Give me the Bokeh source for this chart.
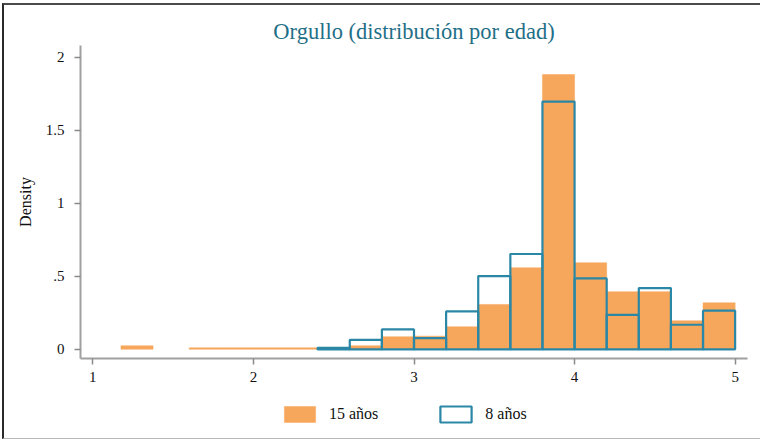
from bokeh.plotting import figure
from bokeh.layouts import column
from bokeh.models import (ColumnDataSource, Range1d, FixedTicker, Legend, LegendItem)
from bokeh.embed import file_html
from bokeh.resources import INLINE

# ---- data: histogram bins (left edge) and densities ----
bin_width = 0.2
age15_left = [1.175, 1.6, 1.8, 2.0, 2.2, 2.4, 2.6, 2.8, 3.0, 3.2, 3.4, 3.6, 3.8, 4.0, 4.2, 4.4, 4.6, 4.8]
age15_density = [0.024, 0.01, 0.01, 0.01, 0.01, 0.01, 0.024, 0.086, 0.09, 0.154, 0.307, 0.558, 1.88, 0.592, 0.394, 0.394, 0.195, 0.318]

age8_left = [2.4, 2.6, 2.8, 3.0, 3.2, 3.4, 3.6, 3.8, 4.0, 4.2, 4.4, 4.6, 4.8]
age8_density = [0.01, 0.065, 0.136, 0.077, 0.259, 0.501, 0.652, 1.695, 0.485, 0.236, 0.419, 0.168, 0.264]

x_ticks = [1, 2, 3, 4, 5]
y_ticks = [0, 0.5, 1, 1.5, 2]
y_tick_labels = ["0", ".5", "1", "1.5", "2"]

title_text = "Orgullo (distribución por edad)"
series_labels = ["15 años", "8 años"]

ORANGE = "#F7A75C"
BLUE = "#2B87A6"
TITLE_COLOR = "#1F6F87"
FONT = "Liberation Serif"

src15 = ColumnDataSource(dict(left=age15_left,
                              right=[l + bin_width for l in age15_left],
                              top=age15_density,
                              bottom=[0] * len(age15_left)))
src8 = ColumnDataSource(dict(left=age8_left,
                             right=[l + bin_width for l in age8_left],
                             top=age8_density,
                             bottom=[0] * len(age8_left)))

# ---- main histogram figure ----
p = figure(frame_width=667, frame_height=313, output_backend="svg", toolbar_location=None,
           x_range=Range1d(0.923, 5.077), y_range=Range1d(-0.063, 2.079),
           min_border_left=76, min_border_right=13, min_border_top=40, min_border_bottom=37)

p.title.text = title_text
p.title.align = "center"
p.title.text_font = FONT
p.title.text_font_size = "22.5px"
p.title.text_font_style = "normal"
p.title.text_color = TITLE_COLOR
p.title.standoff = 3

p.outline_line_color = None
p.grid.visible = False
p.background_fill_color = "white"

r15 = p.quad(left="left", right="right", top="top", bottom="bottom", source=src15,
             fill_color=ORANGE, line_color=ORANGE, line_width=0.5)
r8 = p.quad(left="left", right="right", top="top", bottom="bottom", source=src8,
            fill_color=None, line_color=BLUE, line_width=2.2)

for ax in (p.xaxis[0], p.yaxis[0]):
    ax.axis_line_color = "#a0a0a0"
    ax.axis_line_width = 2
    ax.major_tick_line_color = "#8a8a8a"
    ax.major_tick_line_width = 1.5
    ax.major_tick_out = 6
    ax.major_tick_in = 0
    ax.minor_tick_line_color = None
    ax.major_label_text_font = FONT
    ax.major_label_text_font_size = "15px"
    ax.major_label_text_color = "#111111"
    ax.axis_label_text_font = FONT
    ax.axis_label_text_font_style = "normal"
    ax.axis_label_text_font_size = "16px"
    ax.axis_label_text_color = "#111111"

p.xaxis.ticker = FixedTicker(ticks=x_ticks)
p.xaxis.major_label_standoff = 7
p.yaxis.ticker = FixedTicker(ticks=y_ticks)
p.yaxis.major_label_overrides = {t: s for t, s in zip(y_ticks, y_tick_labels)}
p.yaxis.major_label_orientation = "horizontal"
p.yaxis.major_label_standoff = 10
p.yaxis.axis_label = "Density"
p.yaxis.axis_label_standoff = 9

# ---- legend strip below the plot (same series, drawn out of view; only the key shows) ----
p2 = figure(width=756, height=43, output_backend="svg", toolbar_location=None,
            x_range=Range1d(100, 101), y_range=Range1d(100, 101),
            x_axis_type=None, y_axis_type=None, min_border=0)
p2.outline_line_color = None
p2.grid.visible = False
k15 = p2.quad(left="left", right="right", top="top", bottom="bottom", source=src15,
              fill_color=ORANGE, line_color=ORANGE, line_width=0.5)
k8 = p2.quad(left="left", right="right", top="top", bottom="bottom", source=src8,
             fill_color=None, line_color=BLUE, line_width=2.2)

legend = Legend(items=[LegendItem(label=series_labels[0], renderers=[k15], index=0),
                       LegendItem(label=series_labels[1], renderers=[k8], index=0)],
                orientation="horizontal", location=(200, 14),
                glyph_width=39, glyph_height=20, label_standoff=10, spacing=58,
                label_text_font=FONT, label_text_font_size="16px", label_text_color="#111111",
                border_line_color=None, background_fill_alpha=0, margin=0, padding=6)
p2.add_layout(legend, "center")

layout = column(p, p2, spacing=0,
                styles={"border-left": "2px solid #2a2a2a", "border-top": "2px solid #4a4a4a",
                        "border-bottom": "1px solid #b8b8b8",
                        "margin-left": "2px", "margin-top": "3px"})

open("out.html", "w").write(file_html(layout, INLINE))
